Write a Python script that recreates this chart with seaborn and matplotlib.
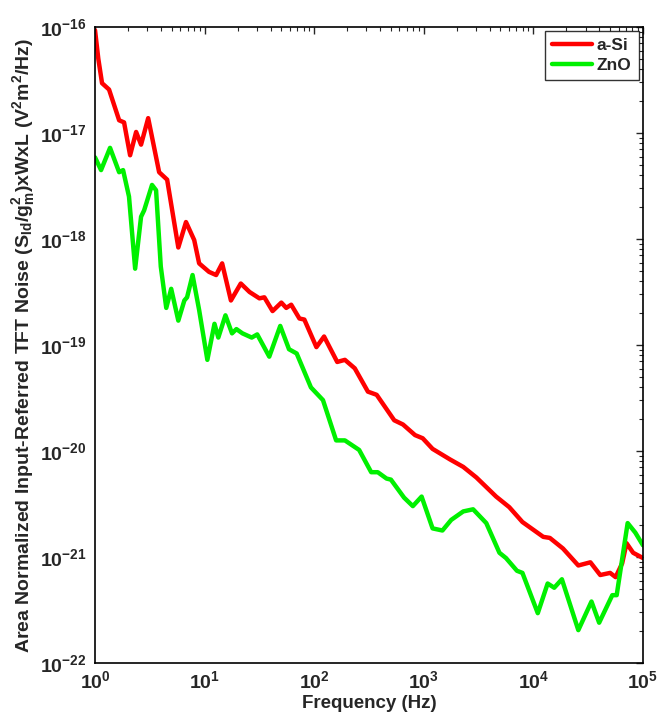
import numpy as np
import pandas as pd
import seaborn as sns
import matplotlib.pyplot as plt
from matplotlib.ticker import LogLocator, NullFormatter

# log10 of frequency (Hz) and log10 of noise PSD
asi_logf = [0.0, 0.03, 0.064, 0.128, 0.22, 0.265, 0.32, 0.375, 0.42, 0.485, 0.585, 0.658,
            0.76, 0.83, 0.905, 0.95, 1.04, 1.105, 1.16, 1.24, 1.33, 1.41, 1.5, 1.545,
            1.62, 1.70, 1.745, 1.79, 1.865, 1.91, 2.02, 2.09, 2.21, 2.28, 2.37, 2.49,
            2.57, 2.73, 2.81, 2.92, 2.99, 3.08, 3.24, 3.36, 3.48, 3.66, 3.78, 3.9,
            4.09, 4.15, 4.27, 4.41, 4.52, 4.61, 4.70, 4.75, 4.81, 4.85, 4.91, 5.0]
asi_logs = [-16.03, -16.3, -16.53, -16.59, -16.88, -16.9, -17.21, -16.99, -17.11, -16.86, -17.37,
            -17.44, -18.08, -17.84, -18.01, -18.23, -18.31, -18.34, -18.23, -18.58, -18.42,
            -18.5, -18.56, -18.55, -18.68, -18.6, -18.65, -18.62, -18.75, -18.76, -19.02,
            -18.92, -19.16, -19.14, -19.22, -19.44, -19.47, -19.71, -19.75, -19.85, -19.88,
            -19.98, -20.08, -20.15, -20.25, -20.43, -20.53, -20.67, -20.81, -20.82, -20.92,
            -21.08, -21.05, -21.17, -21.15, -21.19, -21.06, -20.87, -20.96, -21.01]

zno_logf = [0.0, 0.055, 0.137, 0.22, 0.256, 0.31, 0.366, 0.42, 0.448, 0.52, 0.557, 0.6,
            0.65, 0.695, 0.76, 0.815, 0.84, 0.89, 0.95, 1.025, 1.09, 1.125, 1.19, 1.25,
            1.29, 1.345, 1.43, 1.48, 1.59, 1.69, 1.77, 1.84, 1.97, 2.08, 2.2, 2.28, 2.41,
            2.52, 2.58, 2.66, 2.7, 2.82, 2.9, 2.98, 3.08, 3.17, 3.25, 3.36, 3.45, 3.57,
            3.69, 3.75, 3.85, 3.9, 4.04, 4.13, 4.19, 4.26, 4.41, 4.53, 4.6, 4.72, 4.76,
            4.86, 4.93, 5.0]
zno_logs = [-17.23, -17.35, -17.14, -17.37, -17.35, -17.6, -18.28, -17.79, -17.73, -17.49,
            -17.54, -18.26, -18.65, -18.47, -18.77, -18.58, -18.55, -18.34, -18.67, -19.14,
            -18.8, -18.93, -18.72, -18.89, -18.85, -18.89, -18.93, -18.9, -19.11, -18.82,
            -19.04, -19.08, -19.4, -19.52, -19.9, -19.9, -19.99, -20.2, -20.2, -20.26,
            -20.27, -20.44, -20.52, -20.43, -20.73, -20.75, -20.65, -20.57, -20.55, -20.68,
            -20.96, -21.01, -21.13, -21.15, -21.53, -21.25, -21.29, -21.21, -21.69, -21.42,
            -21.62, -21.36, -21.36, -20.68, -20.77, -20.89]

x_ticks = [1e0, 1e1, 1e2, 1e3, 1e4, 1e5]
y_ticks = [1e-22, 1e-21, 1e-20, 1e-19, 1e-18, 1e-17, 1e-16]

df = pd.concat([
    pd.DataFrame({'f': 10 ** np.array(asi_logf), 'S': 10 ** np.array(asi_logs), 'mat': 'a-Si'}),
    pd.DataFrame({'f': 10 ** np.array(zno_logf), 'S': 10 ** np.array(zno_logs), 'mat': 'ZnO'}),
])

sns.set_style('white')
plt.rcParams['font.family'] = ['Liberation Sans', 'DejaVu Sans']
plt.rcParams['font.weight'] = 'bold'
plt.rcParams['mathtext.fontset'] = 'custom'
plt.rcParams['mathtext.rm'] = 'Liberation Sans:bold'
plt.rcParams['mathtext.it'] = 'Liberation Sans:bold'
plt.rcParams['mathtext.bf'] = 'Liberation Sans:bold'

fig = plt.figure(figsize=(6.59, 7.18), dpi=100)
ax = fig.add_axes([0.1442, 0.0766, 0.8315, 0.8858])

sns.lineplot(data=df, x='f', y='S', hue='mat', palette={'a-Si': '#ff0000', 'ZnO': '#00f000'},
             linewidth=3.2, ax=ax, sort=False, estimator=None, solid_joinstyle='round')

ax.set_xscale('log')
ax.set_yscale('log')
ax.set_xticks(x_ticks)
ax.set_yticks(y_ticks)
ax.set_xlim(1, 1e5)
ax.set_ylim(1e-22, 1e-16)

ax.xaxis.set_minor_locator(LogLocator(base=10, subs=np.arange(2, 10), numticks=20))
ax.yaxis.set_minor_locator(LogLocator(base=10, subs=np.arange(2, 10), numticks=20))
ax.xaxis.set_minor_formatter(NullFormatter())
ax.yaxis.set_minor_formatter(NullFormatter())

ax.tick_params(which='both', direction='in', top=True, right=True, labelsize=14)
ax.tick_params(which='major', length=5, width=1)
ax.tick_params(which='minor', length=3, width=0.8)
ax.tick_params(axis='x', which='major', pad=5)
ax.tick_params(axis='y', which='major', pad=6)
for s in ax.spines.values():
    s.set_color('black')
    s.set_linewidth(1.2)

ax.set_xlabel('Frequency (Hz)', fontsize=13.5, fontweight='bold', labelpad=2)
ax.set_ylabel('Area Normalized Input-Referred TFT Noise (S$_{Id}$/g$_{m}^{2}$)xWxL (V$^{2}$m$^{2}$/Hz)',
              fontsize=14, fontweight='bold', labelpad=2)

leg = ax.legend(loc='upper right', fontsize=12.5, frameon=True, fancybox=False,
                edgecolor='black', handlelength=2.3, handletextpad=0.3,
                borderaxespad=0.25, borderpad=0.4, labelspacing=0.25)
leg.get_frame().set_linewidth(1)
for t in leg.get_texts():
    t.set_fontweight('bold')

plt.savefig('out.png', dpi=100)
